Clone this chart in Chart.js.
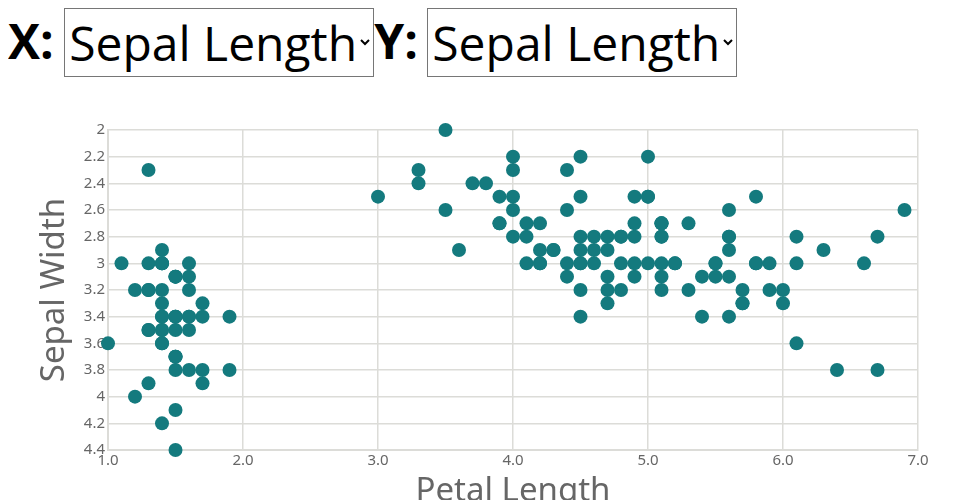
<!DOCTYPE html>
<html>
<head>
<meta charset="utf-8">
<script src="https://cdn.jsdelivr.net/npm/chart.js@4"></script>
<style>
    body { margin: 8px; overflow: hidden; font-family: "Open Sans", sans-serif; }
    label { font-size: 48px; font-weight: bold; }
    select {
        font-family: "Open Sans", sans-serif;
        font-size: 48px;
        font-weight: normal;
        width: 310px;
        height: 69px;
        border: 1px solid #767676;
        border-radius: 0;
        background: #fff;
        vertical-align: top;
        margin-top: 0;
    }
    #xSel { margin-left: -2px; }
    #ySel { margin-left: -3px; }
    #chartBox { position: absolute; left: 0; top: 100px; width: 960px; height: 420px; }
</style>
</head>
<body>
<label>X: <select id="xSel"></select></label><label>Y: <select id="ySel"></select></label>
<div id="chartBox"><canvas id="chartIris"></canvas></div>
<script>
// opciones de los selects
const campos = ['Sepal Length', 'Sepal Width', 'Petal Length', 'Petal Width'];

// datos iris: largo del pétalo (x) y ancho del sépalo (y)
const petalLength = [
    1.4, 1.4, 1.3, 1.5, 1.4, 1.7, 1.4, 1.5, 1.4, 1.5, 1.5, 1.6, 1.4, 1.1, 1.2, 1.5, 1.3, 1.4, 1.7, 1.5,
    1.7, 1.5, 1.0, 1.7, 1.9, 1.6, 1.6, 1.5, 1.4, 1.6, 1.6, 1.5, 1.5, 1.4, 1.5, 1.2, 1.3, 1.4, 1.3, 1.5,
    1.3, 1.3, 1.3, 1.6, 1.9, 1.4, 1.6, 1.4, 1.5, 1.4,
    4.7, 4.5, 4.9, 4.0, 4.6, 4.5, 4.7, 3.3, 4.6, 3.9, 3.5, 4.2, 4.0, 4.7, 3.6, 4.4, 4.5, 4.1, 4.5, 3.9,
    4.8, 4.0, 4.9, 4.7, 4.3, 4.4, 4.8, 5.0, 4.5, 3.5, 3.8, 3.7, 3.9, 5.1, 4.5, 4.5, 4.7, 4.4, 4.1, 4.0,
    4.4, 4.6, 4.0, 3.3, 4.2, 4.2, 4.2, 4.3, 3.0, 4.1,
    6.0, 5.1, 5.9, 5.6, 5.8, 6.6, 4.5, 6.3, 5.8, 6.1, 5.1, 5.3, 5.5, 5.0, 5.1, 5.3, 5.5, 6.7, 6.9, 5.0,
    5.7, 4.9, 6.7, 4.9, 5.7, 6.0, 4.8, 4.9, 5.6, 5.8, 6.1, 6.4, 5.6, 5.1, 5.6, 6.1, 5.6, 5.5, 4.8, 5.4,
    5.6, 5.1, 5.1, 5.9, 5.7, 5.2, 5.0, 5.2, 5.4, 5.1
];
const sepalWidth = [
    3.5, 3.0, 3.2, 3.1, 3.6, 3.9, 3.4, 3.4, 2.9, 3.1, 3.7, 3.4, 3.0, 3.0, 4.0, 4.4, 3.9, 3.5, 3.8, 3.8,
    3.4, 3.7, 3.6, 3.3, 3.4, 3.0, 3.4, 3.5, 3.4, 3.2, 3.1, 3.4, 4.1, 4.2, 3.1, 3.2, 3.5, 3.6, 3.0, 3.4,
    3.5, 2.3, 3.2, 3.5, 3.8, 3.0, 3.8, 3.2, 3.7, 3.3,
    3.2, 3.2, 3.1, 2.3, 2.8, 2.8, 3.3, 2.4, 2.9, 2.7, 2.0, 3.0, 2.2, 2.9, 2.9, 3.1, 3.0, 2.7, 2.2, 2.5,
    3.2, 2.8, 2.5, 2.8, 2.9, 3.0, 2.8, 3.0, 2.9, 2.6, 2.4, 2.4, 2.7, 2.7, 3.0, 3.4, 3.1, 2.3, 3.0, 2.5,
    2.6, 3.0, 2.6, 2.3, 2.7, 3.0, 2.9, 2.9, 2.5, 2.8,
    3.3, 2.7, 3.0, 2.9, 3.0, 3.0, 2.5, 2.9, 2.5, 3.6, 3.2, 2.7, 3.0, 2.5, 2.8, 3.2, 3.0, 3.8, 2.6, 2.2,
    3.2, 2.8, 2.8, 2.7, 3.3, 3.2, 2.8, 3.0, 2.8, 3.0, 2.8, 3.8, 2.8, 2.8, 2.6, 3.0, 3.4, 3.1, 3.0, 3.1,
    3.1, 3.1, 2.7, 3.2, 3.3, 3.0, 2.5, 3.0, 3.4, 3.0
];

const xTitulo = 'Petal Length';
const yTitulo = 'Sepal Width';

// llenar los selects
['xSel', 'ySel'].forEach(id => {
    const sel = document.getElementById(id);
    campos.forEach(c => {
        const opt = document.createElement('option');
        opt.textContent = c;
        sel.appendChild(opt);
    });
    sel.value = 'Sepal Length';
});

const puntos = petalLength.map((v, i) => ({ x: v, y: sepalWidth[i] }));

const fuenteEjes = { family: '"Noto Sans", sans-serif', size: 33 };
const fuenteTicks = { family: '"Noto Sans", sans-serif', size: 15 };
const colorGrid = '#dcdcd8';

const ctx = document.getElementById('chartIris').getContext('2d');
const irisChart = new Chart(ctx, {
    type: 'scatter',
    data: {
        datasets: [{
            data: puntos,
            backgroundColor: '#147a7e',
            borderWidth: 0,
            pointRadius: 7,
            pointHoverRadius: 7,
            clip: false
        }]
    },
    options: {
        responsive: true,
        maintainAspectRatio: false,
        animation: false,
        layout: { padding: { left: 31, top: 30, right: 42, bottom: 5 } },
        plugins: {
            legend: { display: false },
            tooltip: { enabled: false }
        },
        scales: {
            x: {
                type: 'linear',
                min: 1,
                max: 7,
                ticks: {
                    stepSize: 1,
                    padding: 2,
                    color: '#666',
                    font: fuenteTicks,
                    callback: v => v.toFixed(1)
                },
                grid: { color: colorGrid, lineWidth: 1.5, drawTicks: false },
                border: { color: colorGrid, width: 2 },
                title: { display: true, text: xTitulo, color: '#666', font: fuenteEjes },
                afterFit: scale => { scale.height = 65; }
            },
            y: {
                type: 'linear',
                reverse: true,
                min: 2,
                max: 4.4,
                ticks: {
                    stepSize: 0.2,
                    padding: 3,
                    color: '#666',
                    font: fuenteTicks,
                    callback: v => String(Number(v.toFixed(1)))
                },
                grid: { color: colorGrid, lineWidth: 1.5, drawTicks: false },
                border: { color: colorGrid, width: 2 },
                title: { display: true, text: yTitulo, color: '#666', font: fuenteEjes },
                afterFit: scale => { scale.width = 77; }
            }
        }
    }
});
</script>
</body>
</html>
